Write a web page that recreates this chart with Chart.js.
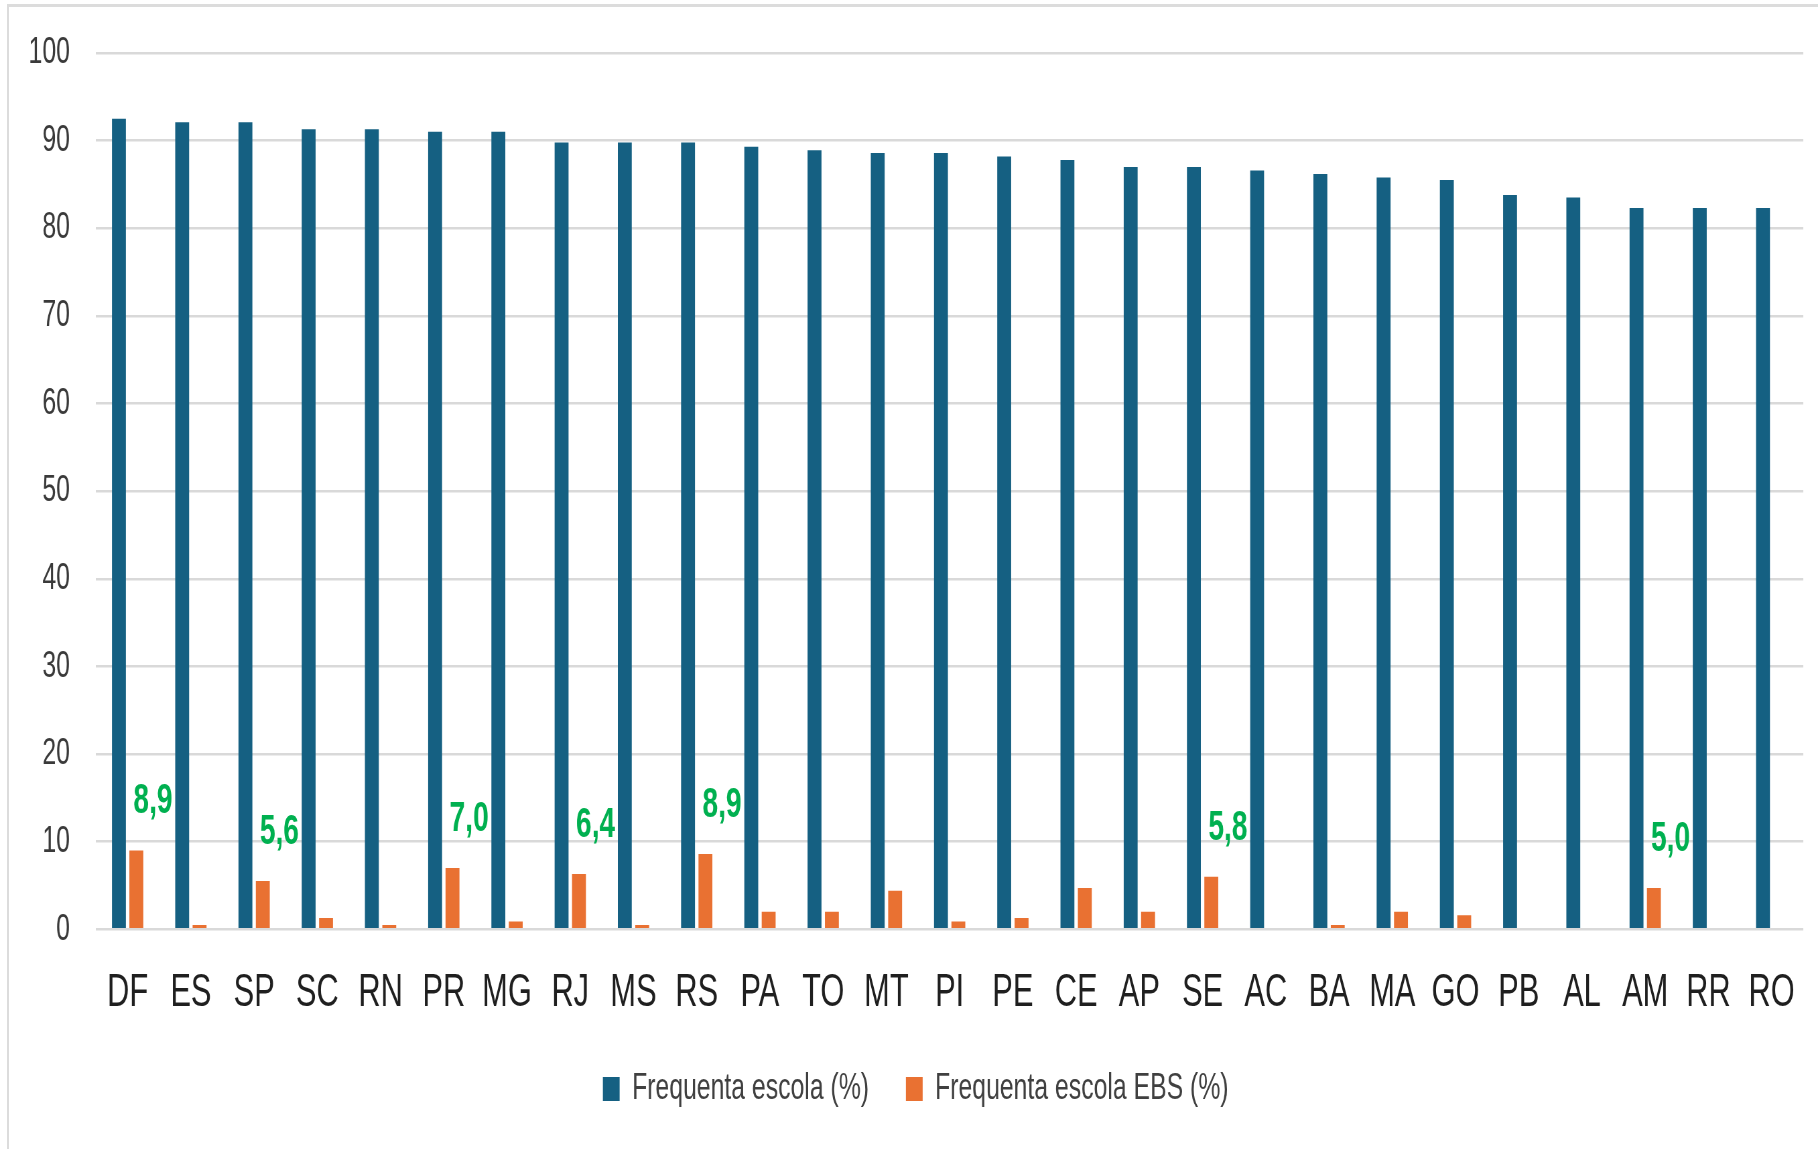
<!DOCTYPE html>
<html lang="pt-BR">
<head>
<meta charset="utf-8">
<title>Frequenta escola por UF</title>
<script src="https://cdn.jsdelivr.net/npm/chart.js@4.4.1/dist/chart.umd.min.js"></script>
<style>
    html, body { margin: 0; padding: 0; background: #fff; }
    #wrap { position: relative; width: 1818px; height: 1149px; overflow: hidden; }
    #moldura { position: absolute; left: 7px; top: 4px; right: -10px; bottom: -10px; border-top: 3px solid #dcdcdc; border-left: 2px solid #dcdcdc; }
    #grafico { position: absolute; left: 0; top: 0; }
</style>
</head>
<body>
<div id="wrap">
    <div id="moldura"></div>
    <canvas id="grafico"></canvas>
</div>
<script>
// Dados
const ufs = ['DF', 'ES', 'SP', 'SC', 'RN', 'PR', 'MG', 'RJ', 'MS', 'RS', 'PA', 'TO', 'MT', 'PI',
    'PE', 'CE', 'AP', 'SE', 'AC', 'BA', 'MA', 'GO', 'PB', 'AL', 'AM', 'RR', 'RO'];
const frequentaEscola = [92.5, 92.1, 92.1, 91.3, 91.3, 91.0, 91.0, 89.8, 89.8, 89.8, 89.3, 88.9, 88.6, 88.6,
    88.2, 87.8, 87.0, 87.0, 86.6, 86.2, 85.8, 85.5, 83.8, 83.5, 82.3, 82.3, 82.3];
const frequentaEBS = [9.0, 0.5, 5.5, 1.3, 0.5, 7.0, 0.9, 6.3, 0.5, 8.6, 2.0, 2.0, 4.4, 0.9,
    1.3, 4.7, 2.0, 6.0, 0, 0.5, 2.0, 1.6, 0, 0, 4.7, 0, 0];
// rótulos verdes em destaque (texto como aparece no original)
const destaques = ['8,9', null, '5,6', null, null, '7,0', null, '6,4', null, '8,9', null, null, null, null,
    null, null, null, '5,8', null, null, null, null, null, null, '5,0', null, null];
const yTicks = [0, 10, 20, 30, 40, 50, 60, 70, 80, 90, 100];

// o original está "apertado" na horizontal: desenha largo e comprime via CSS
const S = 0.67;
const W = Math.round(1818 / S);
const H = 1149;

const canvas = document.getElementById('grafico');
canvas.width = W;
canvas.height = H;
// estilo inline, senão o Chart.js põe a largura lógica
canvas.style.width = '1818px';
canvas.style.height = H + 'px';

Chart.defaults.font.family = '"Liberation Sans", Arial, sans-serif';

// 🟢 rótulos verdes acima das barras laranja
const destaquePlugin = {
    id: 'destaques',
    afterDatasetsDraw(chart) {
        const meta = chart.getDatasetMeta(1);
        const ctx = chart.ctx;
        ctx.save();
        ctx.font = 'bold 42px "Liberation Sans", Arial, sans-serif';
        ctx.fillStyle = '#00B050';
        ctx.textAlign = 'left';
        ctx.textBaseline = 'alphabetic';
        destaques.forEach((txt, i) => {
            if (!txt) return;
            const bar = meta.data[i];
            ctx.fillText(txt, bar.x - bar.width / 2 + 6, bar.y - 37);
        });
        ctx.restore();
    }
};

const padLeft = 42;

new Chart(canvas, {
    type: 'bar',
    data: {
        labels: ufs,
        datasets: [
            {
                label: 'Frequenta escola (%)',
                data: frequentaEscola,
                backgroundColor: '#156082',
                categoryPercentage: 0.55,
                barPercentage: 0.8
            },
            {
                label: 'Frequenta escola EBS (%)',
                data: frequentaEBS,
                backgroundColor: '#E97132',
                categoryPercentage: 0.55,
                barPercentage: 0.8
            }
        ]
    },
    options: {
        responsive: false,
        animation: false,
        devicePixelRatio: 1,
        layout: { padding: { top: 53, left: padLeft, right: W - 1803 / S, bottom: 31.5 } },
        plugins: {
            legend: {
                position: 'bottom',
                labels: {
                    boxWidth: 25,
                    boxHeight: 24,
                    padding: 55,
                    color: '#404040',
                    font: { size: 37 }
                }
            },
            tooltip: { enabled: false }
        },
        scales: {
            y: {
                min: 0,
                max: 100,
                afterBuildTicks: (scale) => { scale.ticks = yTicks.map(v => ({ value: v })); },
                afterFit: (scale) => {
                    scale.width = 96 / S - padLeft;
                    // sem folga extra no topo: o 100 fica colado ao padding do layout
                    scale.paddingTop = 0;
                    scale.paddingBottom = 0;
                },
                ticks: { color: '#3a3a3a', padding: 39, font: { size: 37 } },
                grid: { color: '#d9d9d9', lineWidth: 2.5, drawTicks: false },
                border: { display: false }
            },
            x: {
                afterFit: (scale) => { scale.height = 86.2; },
                ticks: { color: '#1f1f1f', padding: 33, font: { size: 46, lineHeight: 1 }, maxRotation: 0, autoSkip: false },
                grid: { display: false },
                border: { display: false }
            }
        }
    },
    plugins: [destaquePlugin]
});
</script>
</body>
</html>
